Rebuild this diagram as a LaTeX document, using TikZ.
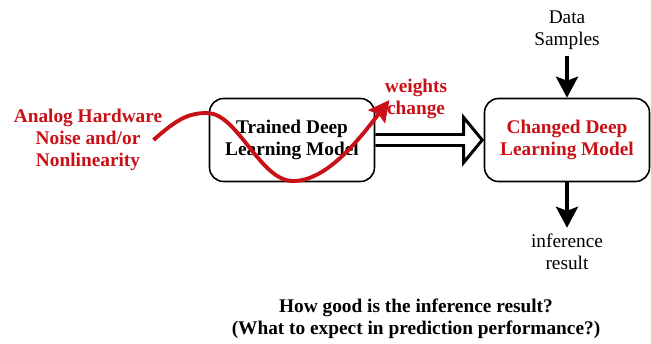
\documentclass[tikz,border=0pt]{standalone}
\usepackage{fontspec}
\setmainfont{Liberation Serif}
\usepackage{xcolor}
\usetikzlibrary{arrows.meta,calc}
\definecolor{noisered}{RGB}{200,16,22}

\tikzset{
	txt/.style = {align=center, inner sep=0pt, font=\fontsize{11pt}{12.5pt}\selectfont},
	redtxt/.style = {txt, text=noisered, font=\fontsize{11pt}{12.5pt}\selectfont\bfseries},
	modelbox/.style = {draw, line width=0.9pt, rounded corners=8pt, fill=white,
		minimum width=3.3cm, minimum height=1.66cm, align=center,
		font=\fontsize{11pt}{12.5pt}\selectfont\bfseries},
	flow/.style = {line width=2pt, -{Stealth[length=0.42cm, width=0.44cm, inset=0.08cm]}},
	hollow/.style = {line width=1.7pt, line join=miter},
}

\begin{document}
\begin{tikzpicture}
	\useasboundingbox (0,0) rectangle (13.02,6.86);
	\node[modelbox] (trained) at (5.84,4.06) {Trained Deep\\Learning Model};
	\node[modelbox, text=noisered] (changed) at (11.34,4.06) {Changed Deep\\Learning Model};
	\node[txt] (data) at (11.34,6.26) {Data\\Samples};
	\node[txt] (infer) at (11.34,1.82) {inference\\result};
	\node[redtxt] (noise) at (1.76,4.06) {Analog Hardware\\Noise and/or\\Nonlinearity};
	\node[redtxt] (weights) at (8.32,4.88) {weights\\change};
	\node[txt, font=\fontsize{11pt}{12.5pt}\selectfont\bfseries] (question) at (8.32,0.48)
		{How good is the inference result?\\(What to expect in prediction performance?)};
	% input and output arrows
	\draw[flow] ([yshift=-0.12cm]data.south) -- (changed.north);
	\draw[flow] (changed.south) -- ([yshift=0.12cm]infer.north);
	% hollow arrow between the models
	\draw[hollow] ($(trained.east)+(0,0.11)$) -- ($(changed.west)+(-0.4,0.11)$)
		-- ++(0,0.34) -- ($(changed.west)+(-0.03,0)$) -- ($(changed.west)+(-0.4,-0.45)$)
		-- ++(0,0.34) -- ($(trained.east)+(0,-0.11)$);
	% noise wave
	\coordinate (wavein) at ($(noise.east)+(-0.18,0)$);
	\coordinate (waveout) at ($(weights.west)+(0.1,-0.02)$);
	\draw[noisered, line width=2.2pt, -{Stealth[length=0.42cm, width=0.42cm, inset=0.06cm]}]
		(wavein) .. controls ++(0.45,0.4) and (3.75,4.6) .. (4.14,4.6)
		.. controls (4.75,4.6) and (5.2,3.24) .. (5.86,3.24)
		.. controls (6.55,3.24) and (7.2,4.1) .. (waveout);
\end{tikzpicture}
\end{document}
